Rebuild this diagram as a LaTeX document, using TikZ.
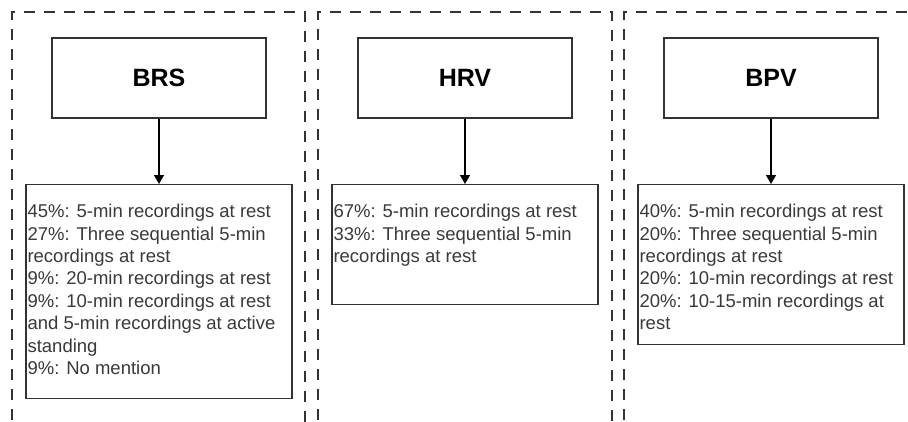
\documentclass[tikz,border=0pt]{standalone}
\usepackage{fontspec}
\setmainfont{Liberation Sans}
\usetikzlibrary{arrows.meta,calc}
\definecolor{linegray}{HTML}{333333}
\definecolor{txtgray}{HTML}{3A3A3A}
\tikzset{
  panel/.style={draw=linegray, line width=1.3pt, dash pattern=on 11pt off 9pt},
  titlebox/.style={draw=linegray, line width=1.3pt, minimum width=214pt, minimum height=80pt, inner sep=0pt,
    font=\fontsize{25}{28}\selectfont\bfseries, text=black},
  contentbox/.style={draw=linegray, line width=1.3pt, minimum width=266pt, inner sep=0pt, anchor=north},
  contenttext/.style={anchor=north west, align=left, inner sep=0pt, text=txtgray,
    font=\fontsize{18.5}{22.4}\selectfont},
  conn/.style={draw=black, line width=1.1pt, -{Triangle[width=10pt,length=9pt]}}
}
\begin{document}
\begin{tikzpicture}[x=1pt,y=-1pt]
\useasboundingbox (0,0) rectangle (908,421);
\fill[white] (0,0) rectangle (908,421);
\clip (0,0) rectangle (908,421);
% dashed panels
\draw[panel] (12,440) -- (12,12) -- (305,12) -- (305,440);
\draw[panel] (318,440) -- (318,12) -- (612,12) -- (612,440);
\draw[panel] (624,440) -- (624,12) -- (930,12);
% title boxes
\node[titlebox] (brs) at (159,78) {BRS};
\node[titlebox] (hrv) at (465,78) {HRV};
\node[titlebox] (bpv) at (771,78) {BPV};
% content boxes
\node[contentbox, minimum height=214pt] (c1) at (159,184) {};
\node[contentbox, minimum height=120pt] (c2) at (465,184) {};
\node[contentbox, minimum height=160pt] (c3) at (771,184) {};
% texts
\node[contenttext] (t1) at ($(c1.north west)+(2,20)$) {45\%: 5-min recordings at rest\\27\%: Three sequential 5-min\\recordings at rest\\9\%: 20-min recordings at rest\\9\%: 10-min recordings at rest\\and 5-min recordings at active\\standing\\9\%: No mention};
\node[contenttext] (t2) at ($(c2.north west)+(2,20)$) {67\%: 5-min recordings at rest\\33\%: Three sequential 5-min\\recordings at rest};
\node[contenttext] (t3) at ($(c3.north west)+(2,20)$) {40\%: 5-min recordings at rest\\20\%: Three sequential 5-min\\recordings at rest\\20\%: 10-min recordings at rest\\20\%: 10-15-min recordings at\\rest};
% connectors
\draw[conn] (brs.south) -- (c1.north);
\draw[conn] (hrv.south) -- (c2.north);
\draw[conn] (bpv.south) -- (c3.north);
\end{tikzpicture}
\end{document}
